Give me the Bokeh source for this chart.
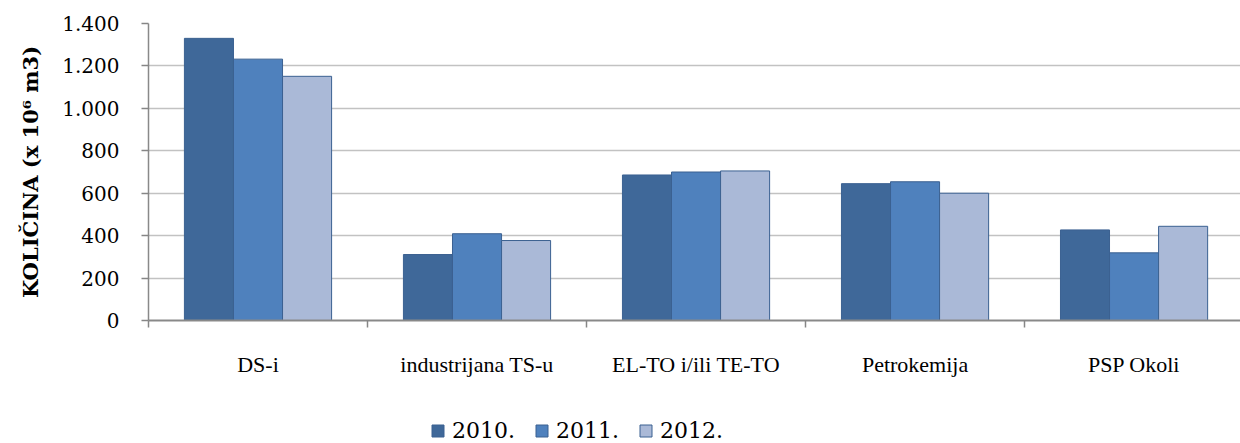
from bokeh.plotting import figure
from bokeh.layouts import column
from bokeh.models import (Range1d, FixedTicker, Legend, LegendItem, ColumnDataSource)
from bokeh.embed import file_html
from bokeh.resources import INLINE

categories = ["DS-i", "industrijana TS-u", "EL-TO i/ili TE-TO", "Petrokemija", "PSP Okoli"]
years = ["2010.", "2011.", "2012."]
v2010 = [1330, 311, 686, 645, 427]
v2011 = [1232, 409, 700, 654, 319]
v2012 = [1151, 377, 705, 600, 444]
y_ticks = [0, 200, 400, 600, 800, 1000, 1200, 1400]
y_tick_labels = ["0", "200", "400", "600", "800", "1.000", "1.200", "1.400"]

fills = ["#3F6899", "#4F81BD", "#AAB9D7"]
edge = "#3B6191"

p = figure(width=1240, height=400, output_backend="svg", toolbar_location=None,
           x_range=Range1d(0, 4.986), y_range=Range1d(0, 1400))
p.min_border_left = 148
p.min_border_right = 0
p.min_border_top = 23
p.min_border_bottom = 80
p.outline_line_color = None
p.background_fill_color = "white"
p.border_fill_color = "white"

bw = 0.224
offsets = [-bw, 0.0, bw]
for vals, off, col in zip([v2010, v2011, v2012], offsets, fills):
    src = ColumnDataSource(dict(x=[i + 0.5 + off for i in range(len(categories))], top=vals))
    p.vbar(x="x", top="top", width=bw, bottom=0, source=src,
           fill_color=col, line_color=edge, line_width=1)

# grid
p.xgrid.visible = False
p.ygrid.ticker = FixedTicker(ticks=y_ticks)
p.ygrid.grid_line_color = "#C2C2C2"
p.ygrid.grid_line_width = 1.5

# x axis
xa = p.xaxis[0]
xa.ticker = FixedTicker(ticks=[i + 0.5 for i in range(len(categories))],
                        minor_ticks=[0, 1, 2, 3, 4, 5])
xa.major_label_overrides = {i + 0.5: c for i, c in enumerate(categories)}
xa.major_tick_out = 0
xa.major_tick_in = 0
xa.minor_tick_out = 7
xa.minor_tick_in = 0
xa.minor_tick_line_color = "#868686"
xa.minor_tick_line_width = 1.5
xa.axis_line_color = "#898989"
xa.axis_line_width = 2
xa.major_label_text_font = "Liberation Serif"
xa.major_label_text_font_size = "22px"
xa.major_label_text_color = "black"
xa.major_label_standoff = 24

# y axis
ya = p.yaxis[0]
ya.ticker = FixedTicker(ticks=y_ticks)
ya.major_label_overrides = {t: l for t, l in zip(y_ticks, y_tick_labels)}
ya.minor_tick_line_color = None
ya.major_tick_out = 7
ya.major_tick_in = 0
ya.major_tick_line_color = "#868686"
ya.major_tick_line_width = 1.5
ya.axis_line_color = "#898989"
ya.axis_line_width = 1.5
ya.major_label_text_font = "DejaVu Serif"
ya.major_label_text_font_size = "20px"
ya.major_label_text_color = "black"
ya.major_label_standoff = 22
ya.axis_label = "KOLIČINA (x 10⁶ m3)"
ya.axis_label_text_font = "DejaVu Serif"
ya.axis_label_text_font_style = "bold"
ya.axis_label_text_font_size = "21px"
ya.axis_label_text_color = "black"
ya.axis_label_standoff = 16

# legend strip (separate figure so the legend is not clipped)
lg = figure(width=1240, height=43, output_backend="svg", toolbar_location=None,
            x_range=Range1d(0, 1), y_range=Range1d(0, 1))
lg.min_border_left = 0
lg.min_border_right = 0
lg.min_border_top = 0
lg.min_border_bottom = 0
lg.axis.visible = False
lg.grid.visible = False
lg.outline_line_color = None
lg.border_fill_color = "white"
lg_renderers = []
for col in fills:
    # zero-size off-range proxy bars, only used for the legend swatches
    r = lg.vbar(x=[-10], top=[-5], bottom=[-5], width=0.0001,
                fill_color=col, line_color=edge, line_width=1)
    lg_renderers.append(r)

legend = Legend(items=[LegendItem(label=y, renderers=[r]) for y, r in zip(years, lg_renderers)],
                orientation="horizontal", location=(282, 0))
legend.label_text_font = "DejaVu Serif"
legend.label_text_font_size = "22px"
legend.label_text_color = "black"
legend.glyph_width = 15
legend.glyph_height = 15
legend.label_standoff = 7
legend.spacing = 19
legend.padding = 0
legend.margin = 0
legend.border_line_color = None
legend.background_fill_alpha = 0
lg.add_layout(legend, "center")

layout = column(p, lg, spacing=0)
open("out.html", "w").write(file_html(layout, INLINE))
